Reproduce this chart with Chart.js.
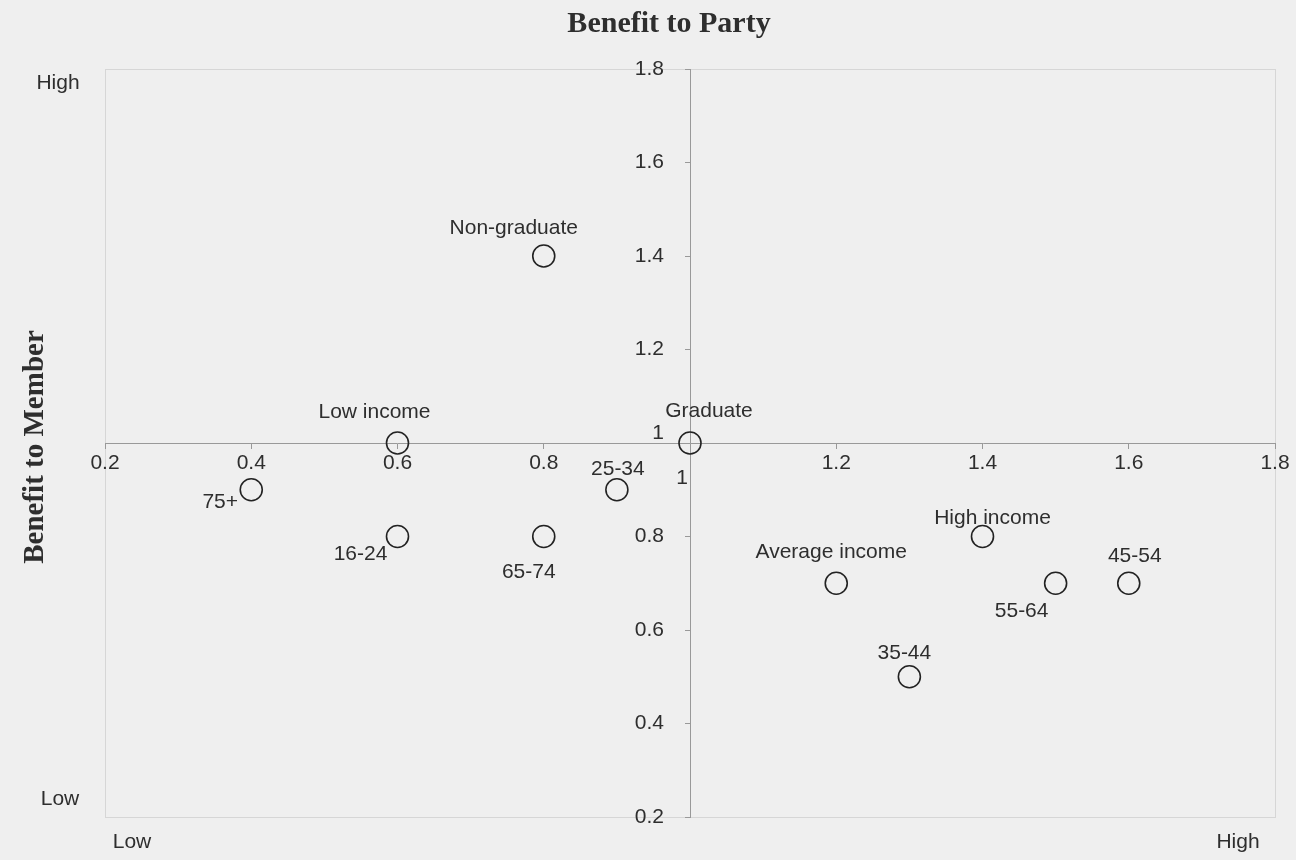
<!DOCTYPE html>
<html>
<head>
<meta charset="utf-8">
<script src="https://cdn.jsdelivr.net/npm/chart.js@4.4.1/dist/chart.umd.min.js"></script>
<style>
  html, body { margin: 0; padding: 0; background: #efefef; }
  #wrap { width: 1296px; height: 860px; position: relative; }
</style>
</head>
<body>
<div id="wrap"><canvas id="c" width="1296" height="860"></canvas></div>
<script>
// ---- Data ----
const categories = ["Non-graduate", "Low income", "Graduate", "75+", "25-34", "16-24", "65-74",
                    "High income", "Average income", "55-64", "45-54", "35-44"];
const benefitToParty  = [0.8, 0.6, 1.0, 0.4, 0.9, 0.6, 0.8, 1.4, 1.2, 1.5, 1.6, 1.3];
const benefitToMember = [1.4, 1.0, 1.0, 0.9, 0.9, 0.8, 0.8, 0.8, 0.7, 0.7, 0.7, 0.5];
const xTickValues = [0.2, 0.4, 0.6, 0.8, 1.0, 1.2, 1.4, 1.6, 1.8];
const yTickValues = [0.2, 0.4, 0.6, 0.8, 1.0, 1.2, 1.4, 1.6, 1.8];
const xAxisTitle = "Benefit to Party";
const yAxisTitle = "Benefit to Member";
const cornerLow = "Low";
const cornerHigh = "High";

// ---- Label placement (style, pixel offsets of label centre from point) ----
const labelOffsets = [[-30,-28],[-23,-31],[19,-32],[-31,12],[1,-21],[-37,18],[-15,36],
                      [10,-18],[-5,-31],[-34,28],[6,-27],[-5,-24]];

const TEXT = '#2e2e2e';
const SANS = '"Liberation Sans", Arial, sans-serif';
const SERIF = '"Liberation Serif", "Times New Roman", serif';

const fmt = v => String(Math.round(v * 10) / 10);
const points = categories.map((c, i) => ({ x: benefitToParty[i], y: benefitToMember[i], label: c }));

const overlay = {
  id: 'overlay',
  beforeDraw(chart) {
    const { ctx, chartArea: a } = chart;
    ctx.save();
    ctx.fillStyle = '#efefef';
    ctx.fillRect(0, 0, chart.width, chart.height);
    ctx.strokeStyle = '#d6d6d6';
    ctx.lineWidth = 1;
    ctx.strokeRect(a.left + 0.5, a.top + 0.5, a.right - a.left, a.bottom - a.top);
    ctx.restore();
  },
  afterDatasetsDraw(chart) {
    const { ctx, chartArea: a, scales } = chart;
    const xs = scales.x, ys = scales.y;
    const px1 = xs.getPixelForValue(1), py1 = ys.getPixelForValue(1);
    ctx.save();
    ctx.fillStyle = TEXT;
    ctx.font = '21px ' + SANS;
    ctx.textBaseline = 'middle';
    // y tick labels (left of the crossing axis)
    ctx.textAlign = 'right';
    ys.ticks.forEach(t => {
      const y = ys.getPixelForValue(t.value);
      const lbl = Math.abs(t.value - 1) < 1e-9 ? '1' : fmt(t.value);
      ctx.fillText(lbl, px1 - 26, Math.abs(t.value - 1) < 1e-9 ? y - 10 : y);
    });
    // extra "1" under the crossing
    ctx.textAlign = 'center';
    ctx.fillText('1', px1 - 8, py1 + 35);
    // data labels
    const meta = chart.getDatasetMeta(0);
    meta.data.forEach((el, i) => {
      const off = labelOffsets[i];
      ctx.fillText(categories[i], el.x + off[0], el.y + off[1]);
    });
    // corner labels
    ctx.fillText(cornerHigh, 58, a.top + 14);
    ctx.fillText(cornerLow, 60, a.bottom - 18);
    ctx.fillText(cornerLow, a.left + 27, a.bottom + 25);
    ctx.fillText(cornerHigh, a.right - 37, a.bottom + 25);
    // axis titles
    ctx.font = 'bold 30px ' + SERIF;
    ctx.fillText(xAxisTitle, px1 - 21, 24);
    ctx.save();
    ctx.translate(36, py1 + 4);
    ctx.rotate(-Math.PI / 2);
    ctx.font = 'bold 29px ' + SERIF;
    ctx.fillText(yAxisTitle, 0, 0);
    ctx.restore();
    ctx.restore();
  }
};

new Chart(document.getElementById('c'), {
  type: 'scatter',
  data: {
    datasets: [{
      data: points,
      pointRadius: 11,
      pointHoverRadius: 11,
      pointBorderWidth: 1.6,
      borderColor: '#222',
      backgroundColor: 'rgba(0,0,0,0)',
      pointBackgroundColor: 'rgba(0,0,0,0)'
    }]
  },
  options: {
    responsive: false,
    animation: false,
    events: [],
    layout: { padding: { left: 105, right: 21, top: 69, bottom: 43 } },
    plugins: { legend: { display: false }, tooltip: { enabled: false }, title: { display: false } },
    scales: {
      x: {
        type: 'linear',
        position: { y: 1 },
        min: 0.2, max: 1.8,
        afterBuildTicks: s => { s.ticks = xTickValues.map(v => ({ value: v })); },
        ticks: {
          color: TEXT,
          font: { family: SANS, size: 21 },
          padding: 3,
          maxRotation: 0,
          autoSkip: false,
          callback: v => (Math.abs(v - 1) < 1e-9 ? '' : fmt(v))
        },
        grid: { drawOnChartArea: false, drawTicks: true, tickLength: 5, color: '#999' },
        border: { color: '#999', width: 1 }
      },
      y: {
        type: 'linear',
        position: { x: 1 },
        min: 0.2, max: 1.8,
        afterBuildTicks: s => { s.ticks = yTickValues.map(v => ({ value: v })); },
        ticks: { display: false },
        grid: { drawOnChartArea: false, drawTicks: true, tickLength: 5, color: '#999' },
        border: { color: '#999', width: 1 }
      }
    }
  },
  plugins: [overlay]
});
</script>
</body>
</html>
